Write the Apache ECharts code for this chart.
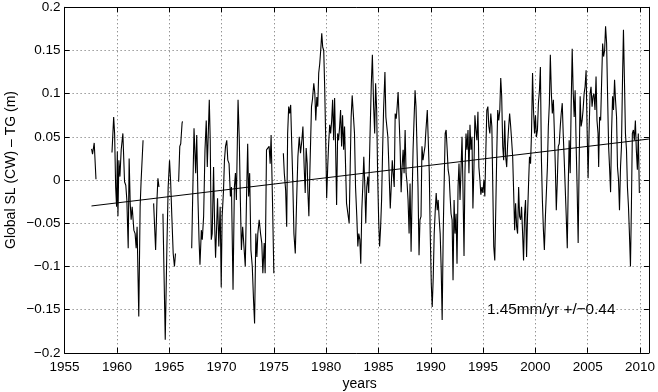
<!DOCTYPE html>
<html>
<head>
<meta charset="utf-8">
<script src="https://cdn.jsdelivr.net/npm/echarts@6/dist/echarts.min.js"></script>
<style>
  html, body { margin: 0; padding: 0; background: #fff; }
  #chart { width: 658px; height: 392px; }
</style>
</head>
<body>
<div id="chart"></div>
<script>
// ---- Data (years, sea-level difference in m); null = gap ----
const t1950s = [1957.58, 1957.67, 1957.83, 1958.0, 1958.8, 1959.53, 1959.69, 1959.78, 1959.88, 1959.97];
const v1950s = [0.036, 0.030, 0.043, 0.001, null, 0.032, 0.073, 0.054, -0.008, -0.031];

const t1960s = [1960.04, 1960.10, 1960.19, 1960.29, 1960.41, 1960.57, 1960.73, 1960.85, 1960.95,
  1961.08, 1961.17, 1961.27, 1961.36, 1961.46, 1961.62, 1961.74, 1961.84, 1961.93,
  1962.09, 1962.22, 1962.31, 1962.50, 1963.0,
  1963.51, 1963.70, 1963.83, 1963.92, 1964.02, 1964.2,
  1964.40, 1964.62, 1964.78, 1964.90, 1965.03, 1965.13, 1965.25, 1965.38, 1965.50, 1965.60, 1965.75,
  1965.90, 1966.01, 1966.10, 1966.23, 1966.27, 1966.7,
  1967.15, 1967.37, 1967.53, 1967.63, 1967.75, 1967.85, 1967.94,
  1968.07, 1968.16, 1968.29, 1968.42, 1968.54, 1968.64, 1968.83, 1968.92,
  1969.02, 1969.11, 1969.24, 1969.33, 1969.43, 1969.52, 1969.62, 1969.74, 1969.87, 1969.97];
const v1960s = [0.033, -0.042, 0.023, 0.004, 0.035, 0.054, -0.002, -0.006, -0.023,
  -0.079, 0.025, -0.027, -0.046, -0.031, -0.058, -0.062, -0.079, -0.054,
  -0.158, -0.031, -0.002, 0.046, null,
  -0.027, -0.081, -0.023, 0.002, -0.008, null,
  -0.039, -0.185, -0.077, -0.008, 0.023, 0.0, -0.042, -0.085, -0.1, -0.085, null,
  -0.002, 0.039, 0.042, 0.066, 0.068, null,
  -0.079, 0.060, 0.008, 0.052, -0.023, -0.069, -0.098,
  -0.058, -0.069, -0.042, 0.035, 0.069, 0.015, 0.093, 0.046,
  -0.069, -0.062, 0.015, -0.046, -0.090, -0.058, -0.021, -0.077, -0.031, -0.124];

const t1970s = [1970.06, 1970.19, 1970.28, 1970.38, 1970.50, 1970.60, 1970.72, 1970.85, 1970.95,
  1971.10, 1971.23, 1971.33, 1971.42, 1971.58, 1971.70, 1971.80, 1971.90,
  1972.02, 1972.15, 1972.27, 1972.40, 1972.50, 1972.59, 1972.69, 1972.81, 1972.94,
  1973.06, 1973.16, 1973.28, 1973.38, 1973.47, 1973.60, 1973.73, 1973.85, 1973.95,
  1974.08, 1974.17, 1974.30, 1974.42, 1974.55, 1974.65, 1974.74, 1974.87,
  1975.00, 1975.4, 1975.91,
  1976.00, 1976.13, 1976.23, 1976.32, 1976.42, 1976.51, 1976.61, 1976.70, 1976.80, 1976.92,
  1977.05, 1977.18, 1977.30, 1977.43, 1977.55, 1977.68, 1977.78, 1977.90,
  1978.00, 1978.09, 1978.19, 1978.25, 1978.35, 1978.44, 1978.60, 1978.69, 1978.82, 1978.92,
  1979.01, 1979.11, 1979.20, 1979.29, 1979.39, 1979.48, 1979.58, 1979.67, 1979.77, 1979.86, 1979.96];
const v1970s = [-0.042, -0.012, 0.023, 0.039, 0.046, 0.023, 0.019, -0.019, -0.008,
  -0.127, -0.008, 0.008, -0.023, 0.093, 0.046, -0.023, -0.081,
  -0.054, -0.054, -0.100, -0.015, 0.042, -0.019, 0.008, -0.081, -0.100,
  -0.139, -0.166, -0.062, -0.089, -0.062, -0.046, -0.062, -0.073, -0.108,
  -0.073, -0.108, 0.035, 0.035, 0.039, 0.019, 0.052, -0.023,
  -0.108, null, 0.031,
  0.008, -0.012, -0.054, 0.054, 0.085, 0.077, 0.087, 0.046, 0.004, -0.062,
  -0.085, -0.023, 0.027, 0.050, 0.031, 0.046, 0.062, 0.015,
  -0.015, 0.037, 0.019, -0.012, -0.042, 0.008, 0.085, 0.093, 0.112, 0.100,
  0.069, 0.096, 0.085, 0.124, 0.135, 0.150, 0.170, 0.154, 0.150, 0.108, 0.046];

const t1980s = [1980.05, 1980.15, 1980.24, 1980.34, 1980.43, 1980.53, 1980.62, 1980.72, 1980.81, 1980.91,
  1981.00, 1981.10, 1981.19, 1981.29, 1981.38, 1981.48, 1981.57, 1981.67, 1981.76, 1981.86, 1981.95,
  1982.08, 1982.20, 1982.30, 1982.39, 1982.49, 1982.62, 1982.71, 1982.81, 1982.93,
  1983.03, 1983.12, 1983.22, 1983.31, 1983.41, 1983.50, 1983.60, 1983.69, 1983.79, 1983.88, 1983.98,
  1984.07, 1984.20, 1984.32, 1984.42, 1984.54, 1984.64, 1984.73, 1984.83, 1984.92,
  1985.02, 1985.11, 1985.21, 1985.30, 1985.40, 1985.49, 1985.62, 1985.71, 1985.81, 1985.90,
  1986.00, 1986.13, 1986.22, 1986.32, 1986.41, 1986.51, 1986.60, 1986.70, 1986.79, 1986.88, 1986.98,
  1987.07, 1987.17, 1987.26, 1987.36, 1987.45, 1987.55, 1987.64, 1987.74, 1987.83, 1987.93,
  1988.02, 1988.12, 1988.21, 1988.31, 1988.40, 1988.50, 1988.59, 1988.69, 1988.78, 1988.88, 1988.97,
  1989.07, 1989.16, 1989.26, 1989.35, 1989.45, 1989.54, 1989.67, 1989.76, 1989.86, 1989.95];
const v1980s = [-0.021, 0.015, 0.042, 0.064, 0.054, 0.069, 0.093, 0.046, 0.095, 0.035,
  -0.029, 0.054, 0.046, 0.062, 0.081, 0.039, 0.075, 0.035, 0.062, 0.015, -0.027,
  -0.039, -0.050, 0.015, 0.073, 0.098, 0.100, 0.054, -0.008, -0.042,
  -0.077, -0.062, -0.069, -0.097, -0.035, -0.008, 0.027, -0.004, -0.050, -0.008, 0.004,
  -0.015, 0.054, 0.112, 0.145, 0.085, 0.054, 0.112, 0.081, 0.008,
  -0.046, -0.077, -0.054, -0.023, 0.035, 0.081, 0.125, 0.073, 0.073, 0.050,
  0.015, -0.033, -0.008, 0.023, 0.008, -0.008, 0.077, 0.071, 0.085, 0.102, 0.069,
  0.039, -0.014, 0.015, 0.035, 0.008, 0.058, 0.008, -0.004, -0.023, -0.062,
  -0.004, -0.083, -0.023, 0.035, 0.069, 0.104, 0.085, 0.035, -0.008, -0.087, -0.046,
  -0.042, 0.039, 0.023, 0.031, 0.039, 0.058, 0.081, 0.046, 0.008, -0.062];

const t1990s = [1990.05, 1990.14, 1990.24, 1990.33, 1990.43, 1990.52, 1990.62, 1990.71, 1990.81, 1990.90,
  1991.00, 1991.09, 1991.19, 1991.28, 1991.38, 1991.47, 1991.57, 1991.66, 1991.76, 1991.85, 1991.94,
  1992.04, 1992.13, 1992.23, 1992.32, 1992.42, 1992.51, 1992.61, 1992.70, 1992.80, 1992.89, 1992.99,
  1993.08, 1993.18, 1993.27, 1993.37, 1993.46, 1993.56, 1993.65, 1993.75, 1993.84, 1993.94,
  1994.03, 1994.13, 1994.22, 1994.32, 1994.41, 1994.51, 1994.60, 1994.70, 1994.79, 1994.89, 1994.98,
  1995.08, 1995.17, 1995.26, 1995.36, 1995.46, 1995.55, 1995.65, 1995.74, 1995.84, 1995.93,
  1996.02, 1996.12, 1996.22, 1996.31, 1996.40, 1996.50, 1996.60, 1996.69, 1996.78, 1996.88, 1996.97,
  1997.07, 1997.16, 1997.26, 1997.35, 1997.45, 1997.54, 1997.64, 1997.73, 1997.83, 1997.92,
  1998.02, 1998.11, 1998.21, 1998.30, 1998.40, 1998.49, 1998.59, 1998.68, 1998.78, 1998.87, 1998.97,
  1999.06, 1999.16, 1999.25, 1999.35, 1999.44, 1999.54, 1999.63, 1999.73, 1999.82, 1999.92];
const v1990s = [-0.120, -0.147, -0.112, -0.062, -0.035, -0.015, -0.035, -0.023, -0.046, -0.062,
  -0.104, -0.162, -0.062, -0.004, 0.054, 0.058, 0.035, 0.012, 0.004, -0.019, -0.039,
  -0.046, -0.116, -0.023, -0.062, -0.039, -0.097, -0.008, 0.019, -0.023, -0.023, 0.050,
  -0.010, -0.088, 0.010, 0.054, 0.035, 0.058, 0.008, 0.064, 0.035, 0.050,
  -0.033, 0.015, 0.075, 0.058, 0.046, 0.079, 0.015, 0.000, -0.017, -0.008, -0.015,
  0.000, -0.019, 0.031, 0.081, 0.085, 0.062, 0.054, 0.077, 0.062, -0.008,
  -0.077, -0.093, -0.031, 0.031, 0.081, 0.069, 0.081, 0.118, 0.097, 0.039, 0.023,
  0.069, 0.027, 0.015, 0.042, 0.062, 0.077, 0.062, 0.046, 0.027, -0.012,
  -0.058, -0.027, -0.054, -0.062, -0.008, -0.042, -0.046, -0.031, -0.062, -0.093, -0.039,
  -0.023, -0.089, -0.042, -0.004, 0.027, 0.019, 0.054, 0.124, 0.081, 0.054];

const t2000s = [2000.01, 2000.10, 2000.20, 2000.29, 2000.39, 2000.48, 2000.58, 2000.67, 2000.77, 2000.86, 2000.96,
  2001.05, 2001.15, 2001.24, 2001.34, 2001.43, 2001.53, 2001.62, 2001.72, 2001.81, 2001.91,
  2002.00, 2002.10, 2002.19, 2002.28, 2002.38, 2002.47, 2002.57, 2002.66, 2002.76, 2002.85, 2002.95,
  2003.05, 2003.14, 2003.23, 2003.33, 2003.42, 2003.52, 2003.61, 2003.71, 2003.80, 2003.90, 2003.99,
  2004.09, 2004.18, 2004.28, 2004.37, 2004.47, 2004.56, 2004.66, 2004.75, 2004.85, 2004.94,
  2005.04, 2005.13, 2005.23, 2005.32, 2005.42, 2005.51, 2005.60, 2005.70, 2005.80, 2005.89, 2005.99,
  2006.05, 2006.14, 2006.24, 2006.33, 2006.43, 2006.52, 2006.62, 2006.71, 2006.81, 2006.90,
  2007.00, 2007.09, 2007.19, 2007.28, 2007.38, 2007.47, 2007.57, 2007.66, 2007.76, 2007.85, 2007.95,
  2008.04, 2008.14, 2008.23, 2008.33, 2008.42, 2008.52, 2008.61, 2008.71, 2008.80, 2008.90, 2008.99,
  2009.09, 2009.18, 2009.27, 2009.37, 2009.46, 2009.56, 2009.65, 2009.75, 2009.84, 2009.94];
const v2000s = [0.075, 0.050, 0.058, 0.089, 0.104, 0.131, 0.023, -0.023, -0.058, -0.081, -0.042,
  -0.015, 0.015, 0.062, 0.089, 0.145, 0.100, 0.077, 0.093, 0.058, 0.015,
  -0.035, 0.000, 0.039, 0.042, 0.062, 0.077, 0.089, 0.054, 0.023, -0.008, -0.042,
  -0.079, -0.008, 0.046, 0.008, 0.085, 0.152, 0.104, 0.073, 0.104, 0.039, -0.008,
  -0.073, 0.015, 0.097, 0.062, 0.069, 0.081, 0.100, 0.108, 0.127, 0.062,
  0.002, 0.054, 0.100, 0.108, 0.085, 0.097, 0.100, 0.081, 0.120, 0.069, 0.054,
  0.015, 0.073, 0.069, 0.112, 0.158, 0.143, 0.150, 0.178, 0.158, 0.100,
  0.039, 0.015, -0.014, 0.054, 0.097, 0.081, 0.116, 0.093, 0.073, 0.015, 0.000,
  -0.035, 0.015, 0.039, 0.116, 0.174, 0.112, 0.054, 0.035, -0.008, -0.031, -0.062,
  -0.100, -0.031, 0.054, 0.058, 0.046, 0.069, 0.035, 0.012, 0.054, -0.015];

// Linear trend (1.45 mm/yr), endpoints
const trendYears = [1957.57, 2010.85];
const trendValues = [-0.030, 0.0475];

const xTicks = [1955, 1960, 1965, 1970, 1975, 1980, 1985, 1990, 1995, 2000, 2005, 2010];
const yTicks = [-0.2, -0.15, -0.1, -0.05, 0, 0.05, 0.1, 0.15, 0.2];

const yLabel = 'Global SL (CW) \u2013 TG (m)';
const xLabel = 'years';
const trendNote = '1.45mm/yr +/\u22120.44';

// ---- Build ----
const tAll = [].concat(t1950s, t1960s, t1970s, t1980s, t1990s, t2000s);
const vAll = [].concat(v1950s, v1960s, v1970s, v1980s, v1990s, v2000s);
if (tAll.length !== vAll.length) console.error('length mismatch', tAll.length, vAll.length);
const slData = tAll.map((t, i) => [t, vAll[i] === null ? '-' : vAll[i]]);
const trendData = trendYears.map((t, i) => [t, trendValues[i]]);

const FONT = '"Liberation Sans", Arial, Helvetica, sans-serif';
const chart = echarts.init(document.getElementById('chart'), null, { renderer: 'canvas' });

const gridLine = { show: true, lineStyle: { color: '#666', width: 1, type: [1, 3] } };
const axisLineStyle = { show: true, onZero: false, lineStyle: { color: '#000', width: 1 } };
const tickStyle = { show: true, inside: true, length: 5, lineStyle: { color: '#000', width: 1 } };

const xMin = xTicks[0], xMax = 2010.85;
const yMin = yTicks[0], yMax = yTicks[yTicks.length - 1];

chart.setOption({
  animation: false,
  backgroundColor: '#fff',
  grid: { left: 64.6, right: 4.7, top: 7.3, bottom: 39.2, containLabel: false },
  xAxis: [{
    type: 'value', min: xMin, max: xMax, interval: 5, position: 'bottom',
    axisLine: axisLineStyle, axisTick: tickStyle,
    axisLabel: {
      show: true, margin: 7, color: '#000', fontSize: 13.5, fontFamily: FONT,
      showMaxLabel: false,
      formatter: v => (xTicks.indexOf(Math.round(v)) >= 0 && Math.abs(v - Math.round(v)) < 1e-6) ? String(Math.round(v)) : ''
    },
    splitLine: gridLine
  }, {
    type: 'value', min: xMin, max: xMax, interval: 5, position: 'top',
    axisLine: axisLineStyle, axisTick: tickStyle, axisLabel: { show: false }, splitLine: { show: false }
  }],
  yAxis: [{
    type: 'value', min: yMin, max: yMax, interval: 0.05, position: 'left',
    axisLine: axisLineStyle, axisTick: tickStyle,
    axisLabel: {
      show: true, margin: 4, color: '#000', fontSize: 13.5, fontFamily: FONT,
      formatter: v => { const r = Math.round(v * 100) / 100; return r === 0 ? '0' : String(r).replace('-', '\u2212'); }
    },
    splitLine: gridLine
  }, {
    type: 'value', min: yMin, max: yMax, interval: 0.05, position: 'right',
    axisLine: axisLineStyle, axisTick: tickStyle, axisLabel: { show: false }, splitLine: { show: false }
  }],
  series: [{
    type: 'line', xAxisIndex: 0, yAxisIndex: 0, data: slData,
    showSymbol: false, symbol: 'none', connectNulls: false,
    lineStyle: { color: '#000', width: 1.1 }, z: 3
  }, {
    type: 'line', xAxisIndex: 0, yAxisIndex: 0, data: trendData,
    showSymbol: false, symbol: 'none',
    lineStyle: { color: '#000', width: 1 }, z: 4
  }],
  graphic: [{
    type: 'text', x: 11, y: 170, rotation: Math.PI / 2,
    style: { text: yLabel, fill: '#000', font: '14px ' + FONT, align: 'center', verticalAlign: 'middle' }
  }, {
    type: 'text', x: 359.7, y: 384,
    style: { text: xLabel, fill: '#000', font: '14px ' + FONT, align: 'center', verticalAlign: 'middle' }
  }, {
    type: 'text', x: 487, y: 310,
    style: { text: trendNote, fill: '#000', font: '15.3px ' + FONT, align: 'left', verticalAlign: 'middle' }
  }]
});
</script>
</body>
</html>
